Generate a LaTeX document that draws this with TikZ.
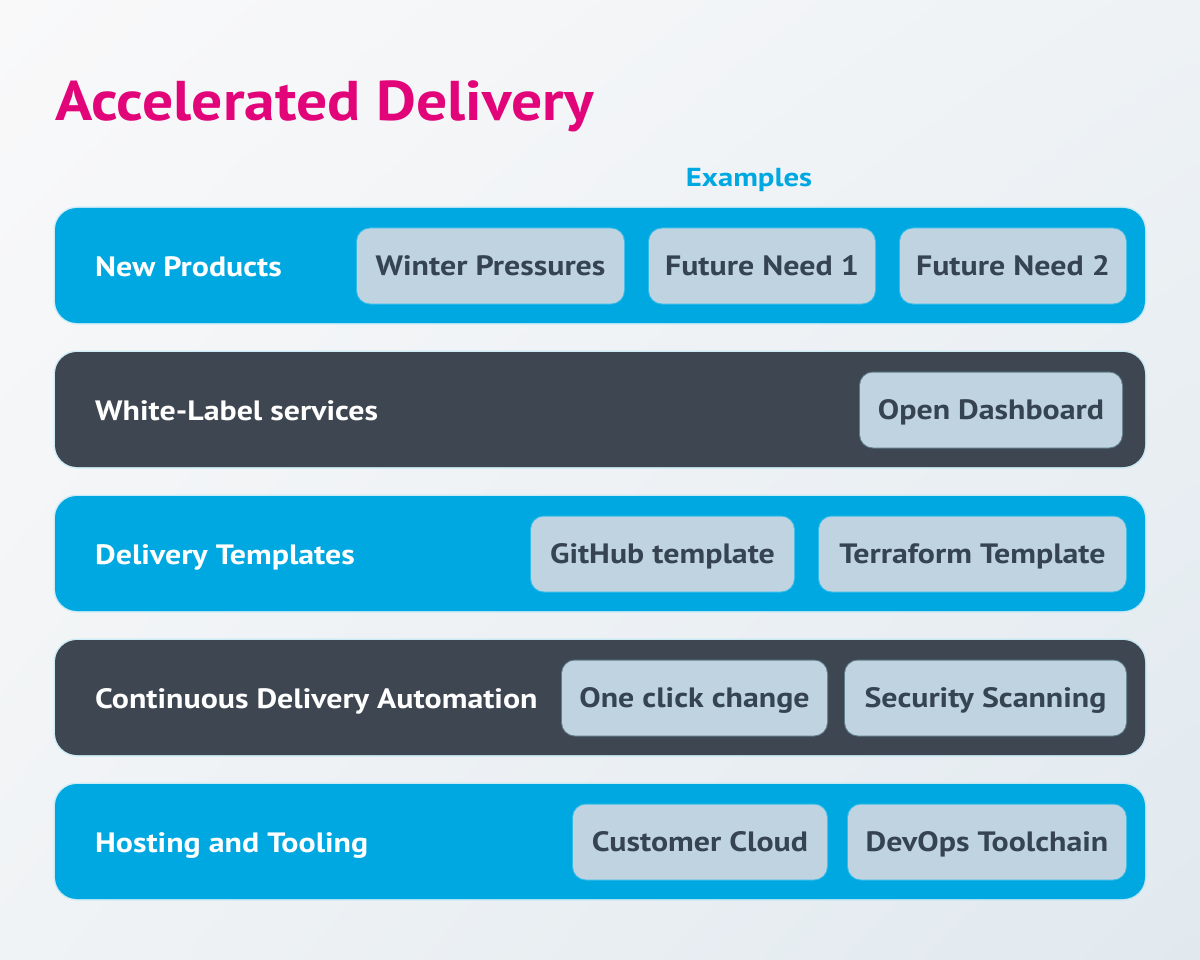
\documentclass[tikz,border=0pt]{standalone}
\usepackage{fontspec}
\setmainfont{PT Sans}
\newfontfamily\titlefont[FakeStretch=1.10]{PT Sans Bold}
\newfontfamily\bandfont[FakeStretch=1.14]{PT Sans Bold}
\newfontfamily\exfont[FakeStretch=1.18]{PT Sans Bold}
\usetikzlibrary{shadings}
\definecolor{bgA}{HTML}{F9F9FA}
\definecolor{bgB}{HTML}{EEF2F5}
\definecolor{bgC}{HTML}{F0F3F5}
\definecolor{bgD}{HTML}{E1E9EF}
\definecolor{rowblue}{HTML}{00A8E1}
\definecolor{rowdark}{HTML}{3E4651}
\definecolor{chipfill}{HTML}{BFD4E0}
\definecolor{chiptext}{HTML}{364452}
\definecolor{titlemag}{HTML}{E2057A}
\definecolor{glow}{HTML}{9FE3F7}
\tikzset{
  band/.style={rounded corners=22pt, minimum width=1090pt, minimum height=115pt, inner sep=0pt,
    preaction={draw=glow, line width=3pt, draw opacity=0.45}},
  bandblue/.style={band, fill=rowblue},
  banddark/.style={band, fill=rowdark},
  bandlabel/.style={anchor=west, inner sep=0pt, text=white, text height=19.6pt, text depth=0pt,
    font=\bandfont\fontsize{28}{32}\selectfont},
  chip/.style={rounded corners=13pt, fill=chipfill, minimum height=75pt, inner sep=0pt,
    text=chiptext, text height=19.6pt, text depth=0pt, font=\bandfont\fontsize{28}{32}\selectfont,
    preaction={draw=glow, line width=2pt, draw opacity=0.35}},
}
\begin{document}
\begin{tikzpicture}[x=1pt,y=-1pt]
\useasboundingbox (0,0) rectangle (1200,960);
\shade[upper left=bgA, upper right=bgB, lower left=bgC, lower right=bgD] (0,0) rectangle (1200,960);

\node[anchor=base west, inner sep=0pt, text=titlemag, font=\titlefont\fontsize{56}{60}\selectfont] (title) at (55,121) {Accelerated Delivery};
\node[inner sep=0pt, text=rowblue, text height=18.2pt, text depth=0pt, font=\exfont\fontsize{26}{30}\selectfont] (examples) at (749,177) {Examples};

% rows
\node[bandblue] (r1) at (600,265.5) {};
\node[banddark] (r2) at (600,409.5) {};
\node[bandblue] (r3) at (600,553.5) {};
\node[banddark] (r4) at (600,697.5) {};
\node[bandblue] (r5) at (600,841.5) {};

\node[bandlabel] (l1) at (95,266.5) {New Products};
\node[bandlabel] (l2) at (95,410.5) {White-Label services};
\node[bandlabel] (l3) at (95,554.5) {Delivery Templates};
\node[bandlabel] (l4) at (95,698.5) {Continuous Delivery Automation};
\node[bandlabel] (l5) at (95,842.5) {Hosting and Tooling};

% chips
\node[chip, minimum width=267pt] (c11) at (490.5,266) {Winter Pressures};
\node[chip, minimum width=226pt] (c12) at (762,266) {Future Need 1};
\node[chip, minimum width=226pt] (c13) at (1013,266) {Future Need 2};

\node[chip, minimum width=262pt] (c21) at (991,410) {Open Dashboard};

\node[chip, minimum width=263pt] (c31) at (662.5,554) {GitHub template};
\node[chip, minimum width=307pt] (c32) at (972.5,554) {Terraform Template};

\node[chip, minimum width=265pt] (c41) at (694.5,698) {One click change};
\node[chip, minimum width=281pt] (c42) at (985.5,698) {Security Scanning};

\node[chip, minimum width=254pt] (c51) at (700,842) {Customer Cloud};
\node[chip, minimum width=278pt] (c52) at (987,842) {DevOps Toolchain};
\end{tikzpicture}
\end{document}
